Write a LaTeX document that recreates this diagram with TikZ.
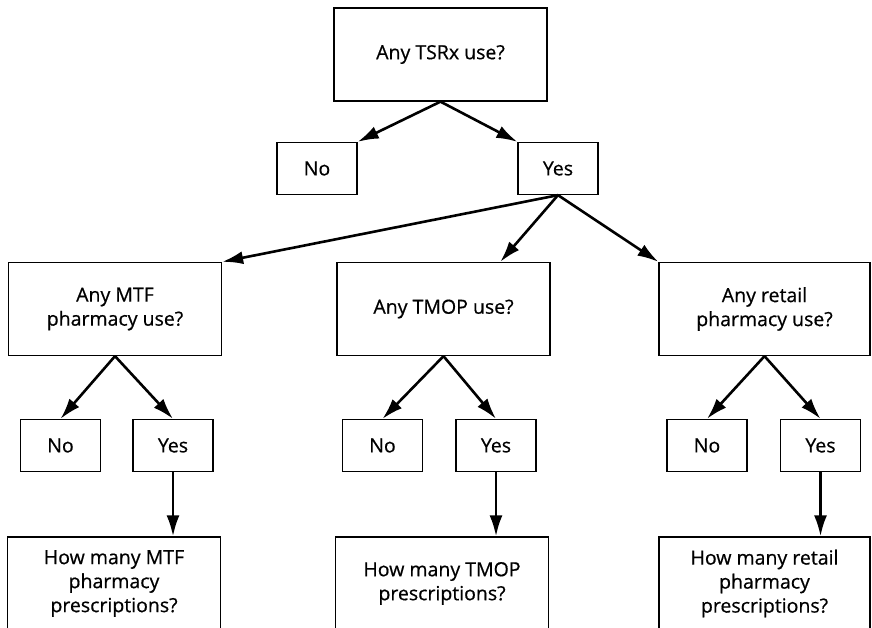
\documentclass[tikz,border=0pt]{standalone}
\usepackage{fontspec}
\setmainfont{Open Sans}[FakeBold=0.6]
\usetikzlibrary{arrows.meta,calc}
\begin{document}
\begin{tikzpicture}[x=1pt,y=-1pt,
  basebox/.style={draw, line width=1.3pt, align=center, inner sep=0pt,
    font=\fontsize{19.5}{24}\selectfont},
  bigbox/.style={basebox, minimum width=213pt, minimum height=93pt},
  smallbox/.style={basebox, minimum width=80pt, minimum height=52pt},
  arr/.style={-{Latex[length=21pt,width=13pt]}, line width=2.6pt}]
\useasboundingbox (0,0) rectangle (872,628);
% top level
\node[bigbox] (top) at (440.5,54.5) {Any TSRx use?};
\node[smallbox] (no0) at (317,168.5) {No};
\node[smallbox] (yes0) at (558,168.5) {Yes};
% second level
\node[bigbox] (mL) at (115,309) {Any MTF\\pharmacy use?};
\node[bigbox] (mM) at (443.5,309) {Any TMOP use?};
\node[bigbox, minimum width=211pt] (mR) at (764.5,309) {Any retail\\pharmacy use?};
% third level
\node[smallbox] (nL) at (60.5,445.5) {No};
\node[smallbox] (yL) at (173,445.5) {Yes};
\node[smallbox] (nM) at (382.5,445.5) {No};
\node[smallbox] (yM) at (496,445.5) {Yes};
\node[smallbox] (nR) at (707,445.5) {No};
\node[smallbox] (yR) at (820.5,445.5) {Yes};
% fourth level
\node[bigbox] (fL) at (114,583.5) {How many MTF\\pharmacy\\prescriptions?};
\node[bigbox] (fM) at (442,583.5) {\raisebox{-6pt}{\parbox{200pt}{\centering How many TMOP\\prescriptions?}}};
\node[bigbox, minimum width=211pt] (fR) at (764.5,583.5) {How many retail\\pharmacy\\prescriptions?};
% arrows
\draw[arr] (top.south) -- (no0.north east);
\draw[arr] (top.south) -- (yes0.north west);
\draw[arr] (yes0.south) -- (mL.north east);
\draw[arr] (yes0.south) -- ($(mM.north west)!0.765!(mM.north east)$);
\draw[arr] (yes0.south) -- (mR.north west);
\draw[arr] (mL.south) -- (nL.north);
\draw[arr] (mL.south) -- (yL.north);
\draw[arr] (mM.south) -- (nM.north);
\draw[arr] (mM.south) -- (yM.north);
\draw[arr] (mR.south) -- (nR.north);
\draw[arr] (mR.south) -- (yR.north);
\draw[arr] (yL.south) -- (yL.south |- fL.north);
\draw[arr] (yM.south) -- (yM.south |- fM.north);
\draw[arr] (yR.south) -- (yR.south |- fR.north);
\end{tikzpicture}
\end{document}
